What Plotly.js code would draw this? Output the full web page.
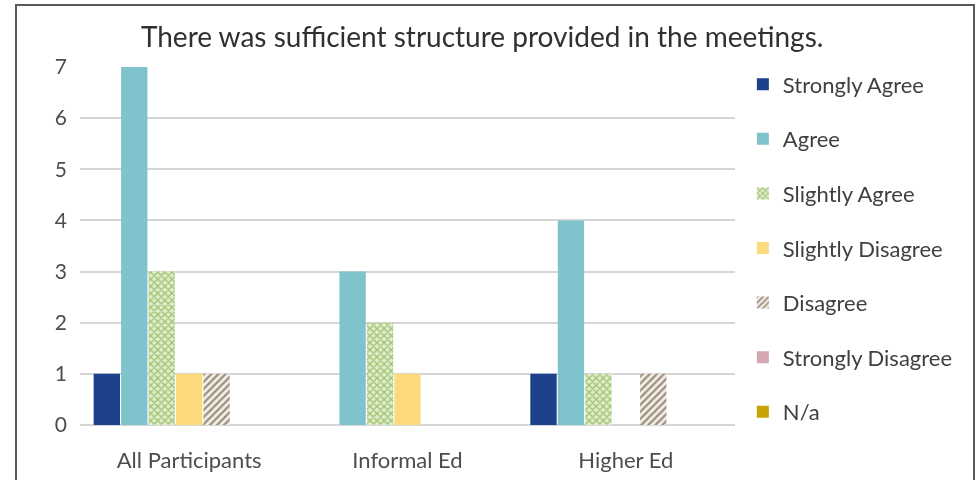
<!DOCTYPE html>
<html>
<head>
<meta charset="utf-8">
<script src="https://cdn.plot.ly/plotly-3.0.1.min.js"></script>
<style>
  html, body { margin: 0; padding: 0; background: #fff; }
  #wrap { position: relative; width: 978px; height: 480px; overflow: hidden; }
  #frame { position: absolute; left: 15px; top: 4px; width: 960px; height: 490px;
           border: 2px solid #5a5a5a; box-sizing: border-box; pointer-events: none; }
  #chart { position: absolute; left: 0; top: 0; width: 978px; height: 480px; filter: blur(0.5px); }
</style>
</head>
<body>
<div id="wrap">
  <div id="chart"></div>
  <div id="frame"></div>
</div>
<script>
// Survey groups along the x axis
const groups = ["All Participants", "Informal Ed", "Higher Ed"];

// Response counts per answer, one value per group
const stronglyAgree    = [1, 0, 1];
const agree            = [7, 3, 4];
const slightlyAgree    = [3, 2, 1];
const slightlyDisagree = [1, 1, 0];
const disagree         = [1, 0, 1];
const stronglyDisagree = [0, 0, 0];
const notApplicable    = [0, 0, 0];

const yTicks = [0, 1, 2, 3, 4, 5, 6, 7];

const font = "Lato, 'Open Sans', sans-serif";

function bar(name, values, marker) {
  return {
    type: "bar", name: name, x: groups, y: values,
    legendgroup: name,
    marker: Object.assign({ line: { width: 0 } }, marker),
    hoverinfo: "y+name"
  };
}

const traces = [
  bar("Strongly Agree", stronglyAgree, { color: "#1d418a" }),
  bar("Agree", agree, { color: "#7fc3cc" }),
  bar("Slightly Agree", slightlyAgree, {
    color: "#dce9c8",
    pattern: { shape: "x", fgcolor: "#9fc26d", bgcolor: "#e0ecce", size: 5, solidity: 0.45 }
  }),
  bar("Slightly Disagree", slightlyDisagree, { color: "#fdda7c" }),
  bar("Disagree", disagree, {
    color: "#ffffff",
    pattern: { shape: "/", fgcolor: "#9c8f7a", bgcolor: "#f3efe8", size: 5, solidity: 0.45 }
  }),
  bar("Strongly Disagree", stronglyDisagree, { color: "#d3a6b0" }),
  bar("N/a", notApplicable, { color: "#c9a304" })
];

const layout = {
  width: 978, height: 480,
  margin: { l: 80, r: 243, t: 67, b: 55 },
  paper_bgcolor: "#ffffff", plot_bgcolor: "#ffffff",
  title: {
    text: "There was sufficient structure provided in the meetings.",
    font: { family: font, size: 28, color: "#303030" },
    x: 0.493, xanchor: "center", y: 0.922, yanchor: "middle"
  },
  barmode: "group",
  bargap: 0.12,
  bargroupgap: 0.04,
  xaxis: {
    type: "category",
    showgrid: false, zeroline: false, showline: false,
    ticks: "", tickfont: { family: font, size: 22, color: "#4d4d4d" },
    ticklabelstandoff: 20
  },
  yaxis: {
    range: [0, 7], tickvals: yTicks, ticktext: yTicks.map(String),
    showgrid: true, gridcolor: "#d6d6d6", gridwidth: 2,
    zeroline: true, zerolinecolor: "#d6d6d6", zerolinewidth: 2,
    showline: false, ticks: "",
    tickfont: { family: font, size: 21, color: "#4d4d4d" },
    ticklabelstandoff: 12
  },
  legend: {
    x: 1.012, xanchor: "left", y: 1.01, yanchor: "top",
    font: { family: font, size: 22, color: "#404040" },
    tracegroupgap: 23, itemwidth: 30,
    maxheight: 470,
    bgcolor: "rgba(0,0,0,0)"
  },
  showlegend: true
};

Plotly.newPlot("chart", traces, layout, { displayModeBar: false, staticPlot: true });
</script>
</body>
</html>
